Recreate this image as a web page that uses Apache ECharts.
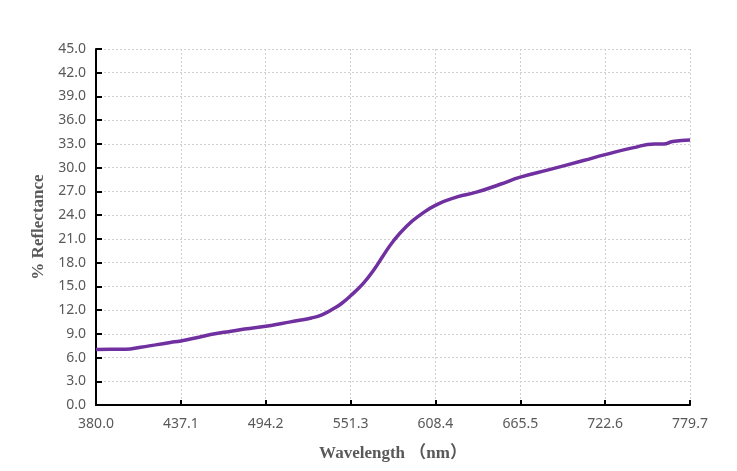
<!DOCTYPE html>
<html>
<head>
<meta charset="utf-8">
<script src="https://cdn.jsdelivr.net/npm/echarts@6/dist/echarts.min.js"></script>
<style>
  html, body { margin: 0; padding: 0; background: #fff; }
  #chart { width: 737px; height: 471px; }
</style>
</head>
<body>
<div id="chart"></div>
<script>
// wavelength (nm) and reflectance (%)
const wavelengths = [380, 390, 400, 410, 420, 430, 437.1, 450, 460, 470, 480, 494.2, 505, 515, 525, 532, 540, 545, 551.3,
  560, 567, 573, 580, 589, 598, 609, 623, 636, 652, 665.5, 685, 708, 722.6, 741, 756, 762, 768, 779.7]
const reflectance = [7.0, 7.05, 7.05, 7.3, 7.6, 7.9, 8.1, 8.6, 9.0, 9.3, 9.6, 9.95, 10.3, 10.65, 11.0, 11.4, 12.2, 12.8, 13.8,
  15.4, 17.1, 18.8, 20.7, 22.6, 24.0, 25.3, 26.3, 26.9, 27.9, 28.8, 29.75, 30.9, 31.65, 32.5, 33.0, 33.0, 33.3, 33.5]

// x axis starts at 380.0 and steps by 57.1 nm
const xStart = 380
const xStep = 57.1
const xEnd = 779.7
const yMax = 45
const yStep = 3

const points = wavelengths.map((w, i) => [w - xStart, reflectance[i]])

const labelColor = '#595959'
const gridLine = { show: true, lineStyle: { color: '#d0d0d0', type: [2, 2], width: 1 } }

const chart = echarts.init(document.getElementById('chart'))
chart.setOption({
  animation: false,
  grid: { left: 96, right: 47, top: 49, bottom: 66 },
  xAxis: {
    type: 'value',
    min: 0,
    max: xEnd - xStart,
    interval: xStep,
    name: 'Wavelength （nm）',
    nameLocation: 'middle',
    nameGap: 40,
    nameTextStyle: { fontFamily: '"Liberation Serif", "Noto Sans CJK SC", serif', fontWeight: 'bold', fontSize: 17, color: labelColor },
    axisLine: { lineStyle: { color: '#000', width: 2 } },
    axisTick: { inside: true, length: 5, lineStyle: { color: '#000', width: 2 } },
    axisLabel: {
      margin: 12,
      fontFamily: '"Noto Sans", sans-serif', fontSize: 14, color: labelColor,
      formatter: v => (v + xStart).toFixed(1)
    },
    splitLine: gridLine
  },
  yAxis: {
    type: 'value',
    min: 0,
    max: yMax,
    interval: yStep,
    name: '% Reflectance',
    nameLocation: 'middle',
    nameGap: 48,
    nameRotate: 90,
    nameTextStyle: { fontFamily: '"Liberation Serif", serif', fontWeight: 'bold', fontSize: 17, color: labelColor },
    axisLine: { show: true, lineStyle: { color: '#000', width: 2 } },
    axisTick: { show: true, inside: true, length: 6, lineStyle: { color: '#000', width: 2 } },
    axisLabel: {
      margin: 10,
      fontFamily: '"Noto Sans", sans-serif', fontSize: 14, color: labelColor,
      formatter: v => v.toFixed(1)
    },
    splitLine: gridLine
  },
  series: [{
    type: 'line',
    data: points,
    smooth: 0.5,
    showSymbol: false,
    lineStyle: { color: '#7030A0', width: 3.5 }
  }]
})
</script>
</body>
</html>
